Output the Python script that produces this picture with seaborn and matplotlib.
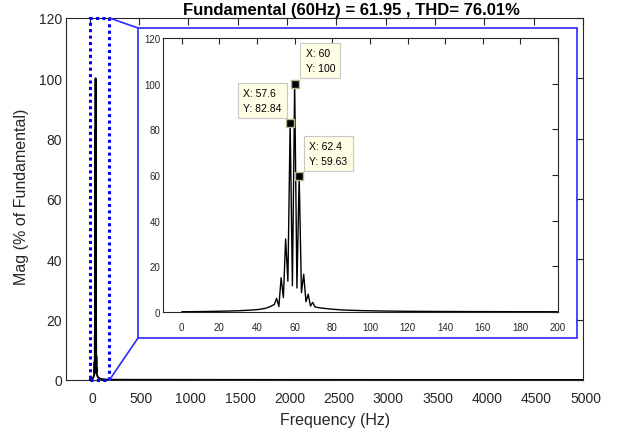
import numpy as np
import matplotlib
matplotlib.use("Agg")
import matplotlib.pyplot as plt
from matplotlib.patches import Rectangle, ConnectionPatch
from matplotlib.transforms import ScaledTranslation
import seaborn as sns

# Harmonic spectrum (% of fundamental) around the 60 Hz component
freq = [0, 6, 12, 18, 24, 30, 36, 40.8, 44.4, 46.8, 48.0, 49.2, 50.4, 51.6,
        52.8, 54.0, 55.2, 56.4, 57.6, 58.8, 60.0, 61.2, 62.4, 63.6, 64.8,
        66.0, 67.2, 68.4, 69.6, 70.8, 72.0, 75.6, 80.4, 85.2, 90, 96, 102,
        108, 114, 120, 132, 144, 156, 168, 180, 192, 204, 300, 500, 1000,
        2000, 3000, 4000, 5000]
mag = [0.1, 0.15, 0.2, 0.3, 0.4, 0.55, 0.8, 1.1, 1.6, 2.3, 2.8, 3.3, 6.0, 2.4,
       15.0, 6.3, 32.0, 13.5, 82.84, 11.5, 100.0, 10.5, 59.63, 8.5, 16.5,
       4.5, 7.8, 2.6, 4.2, 2.2, 2.0, 1.6, 1.2, 0.9, 0.75, 0.6, 0.5,
       0.42, 0.36, 0.3, 0.25, 0.2, 0.18, 0.15, 0.13, 0.12, 0.1, 0.08, 0.06,
       0.05, 0.03, 0.02, 0.02, 0.01]

# Data tips shown in the zoomed view
tip_x = [60.0, 57.6, 62.4]
tip_y = [100.0, 82.84, 59.63]
tip_offsets = [(11, 11), (-47, 10), (10, 10)]

main_xticks = list(range(0, 5001, 500))
main_yticks = list(range(0, 121, 20))
zoom_xticks = list(range(0, 201, 20))
zoom_yticks = list(range(0, 121, 20))

title = "Fundamental (60Hz) = 61.95 , THD= 76.01%"

sns.set_style("white")
plt.rcParams["font.family"] = ["Liberation Sans", "DejaVu Sans"]

W, H = 622, 435
fig = plt.figure(figsize=(W / 100, H / 100), dpi=100)


def fig_rect(x0, y0, x1, y1):
    return [x0 / W, 1 - y1 / H, (x1 - x0) / W, (y1 - y0) / H]


grey = "#262626"

# ---- main axes ----
ax = fig.add_axes(fig_rect(66, 19, 583, 381))
sns.lineplot(x=freq, y=mag, ax=ax, color="black", lw=1.4, estimator=None,
             sort=False)
ax.set_xlim(-240, 5000)
ax.set_ylim(0, 120)
ax.set_xticks(main_xticks)
ax.set_yticks(main_yticks)
ax.tick_params(direction="in", length=5, width=0.8, colors=grey,
               labelsize=10, top=True, right=True)
ax.tick_params(axis="x", pad=8)
ax.tick_params(axis="y", pad=3)
shift = ScaledTranslation(2.5 / 100, 0, fig.dpi_scale_trans)
for lbl in ax.get_xticklabels():
    lbl.set_transform(lbl.get_transform() + shift)
for s in ax.spines.values():
    s.set_color(grey)
    s.set_linewidth(0.8)
ax.set_xlabel("Frequency (Hz)", fontsize=11.5, color=grey)
ax.set_ylabel("Mag (% of Fundamental)", fontsize=11.5, color=grey)
ax.xaxis.set_label_coords((335 - 66) / 517, (381 - 421) / 362)
ax.yaxis.set_label_coords((22 - 66) / 517, (381 - 197) / 362)
ax.xaxis.label.set_va("center")
ax.yaxis.label.set_va("center")
fig.text(351 / W, 1 - 10 / H, title, ha="center", va="center",
         fontsize=12, fontweight="bold", color="black")

# dotted region that is magnified
zx0, zx1 = 0, 200
ax.add_patch(Rectangle((zx0, 0), zx1 - zx0, 120, fill=False,
                       edgecolor="blue", lw=2.2, linestyle=(0, (1, 1.1)),
                       clip_on=False, zorder=5))

# frame around the zoomed view
bx0, by0, bx1, by1 = 138, 29, 577, 339
fig.patches.append(Rectangle((bx0 / W, 1 - by1 / H), (bx1 - bx0) / W,
                             (by1 - by0) / H, transform=fig.transFigure,
                             fill=False, edgecolor="#2a2aff", lw=1.2,
                             zorder=3))
for (ya, yb) in [(120, by0), (0, by1)]:
    con = ConnectionPatch(xyA=(zx1, ya), coordsA=ax.transData,
                          xyB=(bx0 / W, 1 - yb / H), coordsB=fig.transFigure,
                          color="#2a2aff", lw=1.2)
    fig.add_artist(con)

# ---- zoomed axes ----
axz = fig.add_axes(fig_rect(163, 39, 558, 313))
axz.set_facecolor("white")
sns.lineplot(x=freq, y=mag, ax=axz, color="black", lw=1.0, estimator=None,
             sort=False)
axz.set_xlim(-10, 200)
axz.set_ylim(0, 120)
axz.set_xticks(zoom_xticks)
axz.set_yticks(zoom_yticks)
axz.tick_params(direction="in", length=4, width=0.8, colors=grey,
                labelsize=7, top=True, right=True)
axz.tick_params(axis="x", pad=7)
axz.tick_params(axis="y", pad=2)
for s in axz.spines.values():
    s.set_color(grey)
    s.set_linewidth(0.8)

sns.scatterplot(x=tip_x, y=tip_y, ax=axz, marker="s", s=38, color="black",
                edgecolor="#b8b890", linewidth=1.0, zorder=6)
for x, y, off in zip(tip_x, tip_y, tip_offsets):
    axz.annotate(f"X: {x:g}\nY: {y:g}", xy=(x, y), xytext=off,
                 textcoords="offset pixels", ha="left", va="bottom",
                 multialignment="left", fontsize=7.5, color="black",
                 linespacing=1.55,
                 bbox=dict(boxstyle="square,pad=0.5", fc="#ffffe6",
                           ec="#c8c8c8", lw=0.8), zorder=7)

fig.savefig("out.png", dpi=100)
